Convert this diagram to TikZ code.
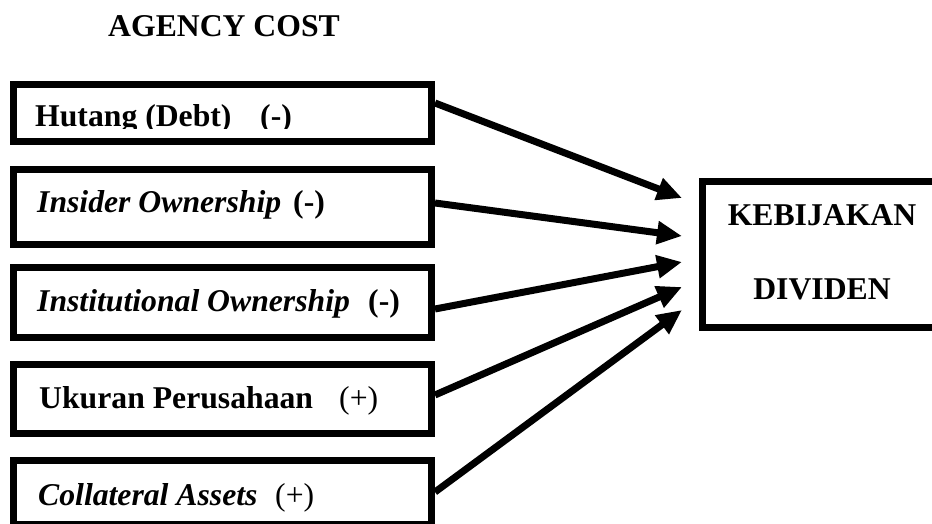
\documentclass[tikz,border=0pt]{standalone}
\usepackage{fontspec}
\setmainfont{Liberation Serif}
\usetikzlibrary{arrows.meta}
\begin{document}
\begin{tikzpicture}[x=1pt,y=-1pt,
  box/.style={draw,line width=7pt,inner sep=0pt,anchor=north west},
  lbl/.style={inner sep=0pt,anchor=base west,font=\fontsize{31.7}{38}\selectfont},
  clbl/.style={inner sep=0pt,anchor=base,font=\fontsize{31.7}{38}\selectfont\bfseries},
  arr/.style={line width=7pt,-{Triangle[length=25pt,width=22pt]}}]
\useasboundingbox (0,0) rectangle (932,524);
% title
\node[lbl] (title) at (108,37) {\bfseries AGENCY COST};
% left boxes
\node[box,minimum width=418pt,minimum height=57pt] (b1) at (10,81) {};
\node[box,minimum width=418pt,minimum height=75pt] (b2) at (10,166) {};
\node[box,minimum width=418pt,minimum height=70pt] (b3) at (10,264) {};
\node[box,minimum width=418pt,minimum height=69pt] (b4) at (10,361) {};
\node[box,minimum width=418pt,minimum height=64pt] (b5) at (10,457) {};
% texts
\begin{scope}
\clip (10,81) rectangle (435,129);
\node[lbl] (t1) at (35,127) {\bfseries Hutang (Debt)};
\node[lbl] (s1) at (260,127) {\bfseries (-)};
\end{scope}
\node[lbl] (t2) at (37,212) {\bfseries\itshape Insider Ownership};
\node[lbl] (s2) at (293,212) {\bfseries (-)};
\node[lbl] (t3) at (37,311) {\bfseries\itshape Institutional Ownership};
\node[lbl] (s3) at (368,311) {\bfseries (-)};
\node[lbl] (t4) at (39,408) {\bfseries Ukuran Perusahaan};
\node[lbl] (s4) at (339,408) {(+)};
\node[lbl] (t5) at (38,505) {\bfseries\itshape Collateral Assets};
\node[lbl] (s5) at (275,505) {(+)};
% right box
\node[box,minimum width=239pt,minimum height=146pt] (K) at (699,178) {};
\node[clbl] (k1) at (822,225) {KEBIJAKAN};
\node[clbl] (k2) at (822,299) {DIVIDEN};
% arrows
\draw[arr] (b1.east |- 0,103) -- ([xshift=-17pt]K.west |- 0,198);
\draw[arr] (b2.east |- 0,203) -- ([xshift=-17pt]K.west |- 0,236);
\draw[arr] (b3.east |- 0,309) -- ([xshift=-17pt]K.west |- 0,262);
\draw[arr] (b4.east |- 0,395) -- ([xshift=-17pt]K.west |- 0,287);
\draw[arr] (b5.east |- 0,492) -- ([xshift=-17pt]K.west |- 0,310);
\end{tikzpicture}
\end{document}
